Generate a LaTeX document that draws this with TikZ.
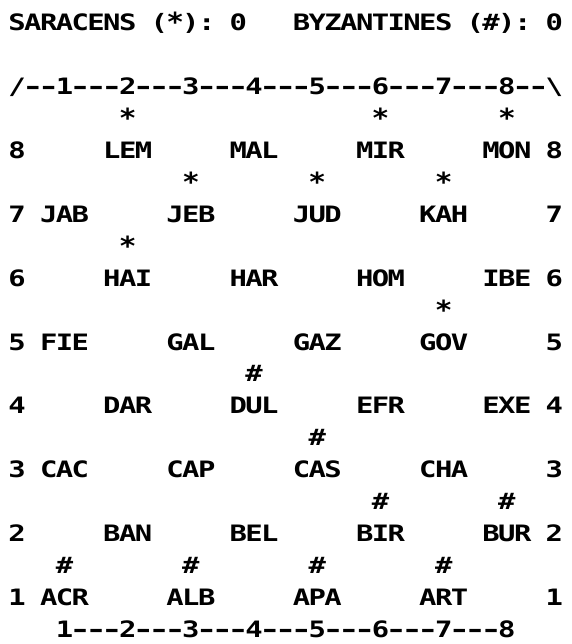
\documentclass[tikz,border=0pt]{standalone}
\usepackage{fontspec}
\usepackage{graphicx}
\newfontfamily\scrfont{DejaVu Sans Mono}
\tikzset{
  x=1pt, y=1pt,
  txt/.style={anchor=base west, inner sep=0pt, outer sep=0pt,
    font=\scrfont\bfseries\fontsize{26.25}{30}\selectfont},
}
% one fixed 15.8pt cell per character, as on a character screen
\def\cells#1{\cellsi#1\relax}
\def\cellsi#1{\ifx#1\relax\else
  \ifx#1-\makebox[15.8pt]{\scalebox{1.4}[0.86]{-}}%
  \else\ifx#1*\makebox[15.8pt]{\raisebox{-1pt}{\scalebox{1.12}[1.0]{*}}}%
  \else\makebox[15.8pt]{\scalebox{1.1}[0.86]{#1}}\fi\fi
  \expandafter\cellsi\fi}
\newcommand{\tx}[4]{\node[txt] (#1) at ({9.2+15.8*(#2)},{-31-31.9*(#3)}) {\cells{#4}};}
\begin{document}
\begin{tikzpicture}
\useasboundingbox[fill=white] (0,0) rectangle (571,-644);
% header
\tx{header}{0}{0}{SARACENS~(*):~0~~~BYZANTINES~(\#):~0}
% top ruler
\tx{ruletop}{0}{2}{/--1---2---3---4---5---6---7---8--\textbackslash}
% row labels
\foreach \r/\l in {8/4,7/6,6/8,5/10,4/12,3/14,2/16,1/18}{
  \tx{left\r}{0}{\l}{\r}
  \tx{right\r}{34}{\l}{\r}
}
% row 8
\tx{lem}{6}{4}{LEM}\tx{mal}{14}{4}{MAL}\tx{mir}{22}{4}{MIR}\tx{mon}{30}{4}{MON}
% row 7
\tx{jab}{2}{6}{JAB}\tx{jeb}{10}{6}{JEB}\tx{jud}{18}{6}{JUD}\tx{kah}{26}{6}{KAH}
% row 6
\tx{hai}{6}{8}{HAI}\tx{har}{14}{8}{HAR}\tx{hom}{22}{8}{HOM}\tx{ibe}{30}{8}{IBE}
% row 5
\tx{fie}{2}{10}{FIE}\tx{gal}{10}{10}{GAL}\tx{gaz}{18}{10}{GAZ}\tx{gov}{26}{10}{GOV}
% row 4
\tx{dar}{6}{12}{DAR}\tx{dul}{14}{12}{DUL}\tx{efr}{22}{12}{EFR}\tx{exe}{30}{12}{EXE}
% row 3
\tx{cac}{2}{14}{CAC}\tx{cap}{10}{14}{CAP}\tx{cas}{18}{14}{CAS}\tx{cha}{26}{14}{CHA}
% row 2
\tx{ban}{6}{16}{BAN}\tx{bel}{14}{16}{BEL}\tx{bir}{22}{16}{BIR}\tx{bur}{30}{16}{BUR}
% row 1
\tx{acr}{2}{18}{ACR}\tx{alb}{10}{18}{ALB}\tx{apa}{18}{18}{APA}\tx{art}{26}{18}{ART}
% markers
\tx{sa1}{7}{3}{*}\tx{sa2}{23}{3}{*}\tx{sa3}{31}{3}{*}
\tx{sa4}{11}{5}{*}\tx{sa5}{19}{5}{*}\tx{sa6}{27}{5}{*}
\tx{sa7}{7}{7}{*}
\tx{sa8}{27}{9}{*}
\tx{by1}{15}{11}{\#}
\tx{by2}{19}{13}{\#}
\tx{by3}{23}{15}{\#}\tx{by4}{31}{15}{\#}
\tx{by5}{3}{17}{\#}\tx{by6}{11}{17}{\#}\tx{by7}{19}{17}{\#}\tx{by8}{27}{17}{\#}
% bottom ruler
\tx{rulebot}{3}{19}{1---2---3---4---5---6---7---8}
\end{tikzpicture}
\end{document}
